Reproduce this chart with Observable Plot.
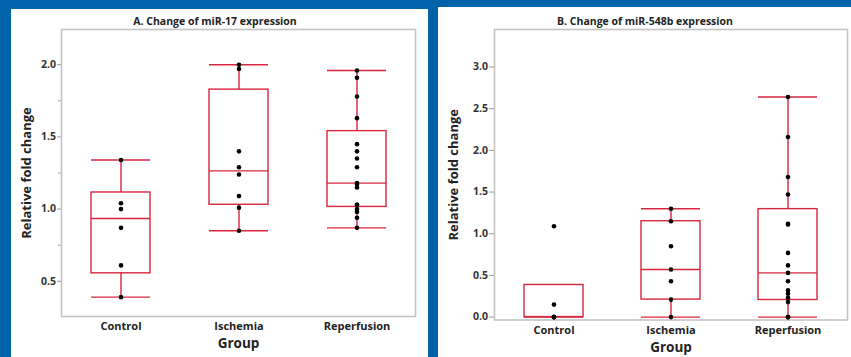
<!DOCTYPE html>
<html><head><meta charset="utf-8">
<script src="https://cdn.jsdelivr.net/npm/d3@7"></script>
<script src="https://cdn.jsdelivr.net/npm/@observablehq/plot@0.6"></script>
<style>
html,body{margin:0;padding:0;}
body{width:851px;height:357px;background:#0062a8;position:relative;overflow:hidden;font-family:"Open Sans",sans-serif;}
.panel{position:absolute;background:#fff;overflow:hidden;}
.panel svg{position:absolute;left:0;top:0;}
.title{position:absolute;top:6px;font-weight:700;font-size:10.5px;color:#222;white-space:nowrap;transform:translateX(-50%);line-height:14px;z-index:2;}
</style></head><body>
<div id="pa" class="panel" style="left:11px;top:9px;width:417px;height:348px"><div class="title" style="left:204px;top:5px">A. Change of miR-17 expression</div></div>
<div id="pb" class="panel" style="left:438px;top:7px;width:413px;height:350px"><div class="title" style="left:207px;top:7px">B. Change of miR-548b expression</div></div>
<script>
const groups = ["Control", "Ischemia", "Reperfusion"];
const miR17Control = [0.39, 0.61, 0.87, 1.00, 1.04, 1.34];
const miR17Ischemia = [0.85, 1.01, 1.09, 1.24, 1.29, 1.40, 1.97, 2.00];
const miR17Reperfusion = [0.87, 0.94, 0.98, 1.00, 1.03, 1.03, 1.15, 1.17, 1.18, 1.29, 1.35, 1.40, 1.45, 1.63, 1.78, 1.91, 1.96];
const miR548bControl = [0, 0, 0, 0, 0.15, 1.09];
const miR548bIschemia = [0, 0.21, 0.43, 0.57, 0.85, 1.15, 1.30];
const miR548bReperfusion = [0, 0, 0, 0.18, 0.23, 0.28, 0.32, 0.43, 0.53, 0.62, 0.77, 1.11, 1.12, 1.47, 1.68, 2.16, 2.64];
const yTicksA = [0.5, 1.0, 1.5, 2.0];
const yMinorTicksA = [0.75, 1.25, 1.75];
const yTicksB = [0, 0.5, 1.0, 1.5, 2.0, 2.5, 3.0];
const yLabel = "Relative fold change";
const xLabel = "Group";

const RED = "#d7263d";
const FONT = "Open Sans, sans-serif";

// Minitab-style quartile: position p*(n+1)
function mq(s, p) {
  const n = s.length, pos = p * (n + 1), i = Math.floor(pos), f = pos - i;
  if (i < 1) return s[0];
  if (i >= n) return s[n - 1];
  return s[i - 1] + f * (s[i] - s[i - 1]);
}
function stats(group, vals) {
  const s = vals.slice().sort((a, b) => a - b);
  const q1 = mq(s, 0.25), med = mq(s, 0.5), q3 = mq(s, 0.75), iqr = q3 - q1;
  const hi = d3.max(s.filter(v => v <= q3 + 1.5 * iqr));
  const lo = d3.min(s.filter(v => v >= q1 - 1.5 * iqr));
  return {group, q1, med, q3, hi, lo};
}

function panel(series, o) {
  const points = series.flatMap((vals, i) => vals.map(v => ({group: groups[i], value: v})));
  const st = series.map((vals, i) => stats(groups[i], vals));
  const up = st.filter(d => d.hi > d.q3), dn = st.filter(d => d.lo < d.q1);
  return Plot.plot({
    width: o.width, height: o.height,
    marginLeft: o.ml, marginTop: o.mt, marginRight: o.mr, marginBottom: o.mb,
    style: {background: "transparent", fontFamily: FONT, color: "#333", overflow: "visible"},
    x: {type: "band", domain: groups, paddingInner: 0.5, paddingOuter: 0.25},
    y: {domain: o.domain},
    marks: [
      Plot.frame({stroke: "#c4c4c4", strokeWidth: 1.6}),
      Plot.axisY(o.ticks, {tickSize: o.tickSize, tickPadding: 1.5, tickFormat: d3.format(".1f"), stroke: "#999", fill: "#333", fontSize: 10.5, fontWeight: "bold", label: null}),
      o.minor ? Plot.axisY(o.minor, {tickSize: 3, stroke: "#aaa", tickFormat: () => "", label: null}) : null,
      Plot.axisY([], {tickSize: 0, label: yLabel, labelArrow: "none", labelAnchor: "center", labelOffset: o.ylo, fontSize: 13, fontWeight: "bold", fill: "#222"}),
      Plot.axisX({tickSize: 0, tickPadding: o.xtp, fontSize: 11, fontWeight: "bold", fill: "#222", label: null}),
      Plot.axisX([], {tickSize: 0, label: xLabel, labelArrow: "none", labelOffset: o.xlo, fontSize: 13.5, fontWeight: "bold", fill: "#222"}),
      Plot.barY(st, {x: "group", y1: "q1", y2: "q3", fill: "none", stroke: RED, strokeWidth: 1.4}),
      Plot.tickY(st, {x: "group", y: "med", stroke: RED, strokeWidth: 1.4}),
      Plot.ruleX(up, {x: "group", y1: "q3", y2: "hi", stroke: RED, strokeWidth: 1.4}),
      Plot.ruleX(dn, {x: "group", y1: "lo", y2: "q1", stroke: RED, strokeWidth: 1.4}),
      Plot.tickY(up, {x: "group", y: "hi", stroke: RED, strokeWidth: 1.4}),
      Plot.tickY(dn, {x: "group", y: "lo", stroke: RED, strokeWidth: 1.4}),
      Plot.dot(points, {x: "group", y: "value", r: 2.3, fill: "#000", stroke: "none"})
    ]
  });
}

document.getElementById("pa").append(panel([miR17Control, miR17Ischemia, miR17Reperfusion], {
  width: 417, height: 348, ml: 50, mt: 20, mr: 13, mb: 41,
  domain: [0.256, 2.244], ticks: yTicksA, minor: yMinorTicksA, tickSize: 4,
  ylo: 40, xtp: 6, xlo: 31
}));
document.getElementById("pb").append(panel([miR548bControl, miR548bIschemia, miR548bReperfusion], {
  width: 413, height: 350, ml: 56, mt: 22, mr: 4, mb: 37.5,
  domain: [-0.035, 3.45], ticks: yTicksB, minor: null, tickSize: 5,
  ylo: 46, xtp: 6.5, xlo: 32
}));
</script>
</body></html>
